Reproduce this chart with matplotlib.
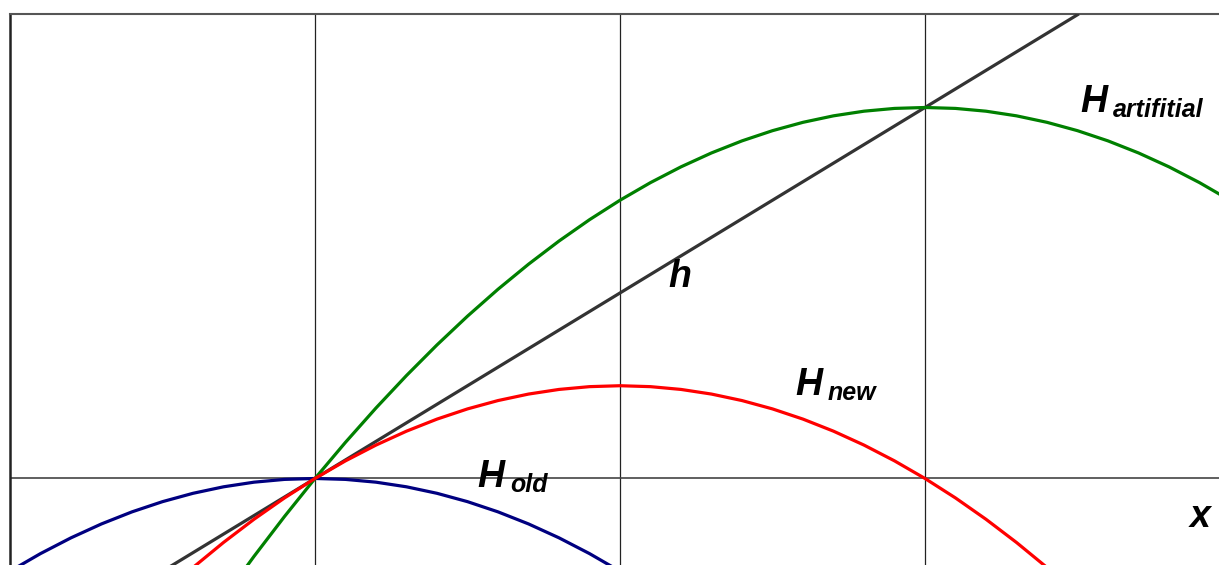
import matplotlib
matplotlib.use("Agg")
import matplotlib.pyplot as plt

# x positions (step 0.1)
x_old = [-1.0, -0.9, -0.8, -0.7, -0.6, -0.5, -0.4, -0.3, -0.2, -0.1, 0.0,
         0.1, 0.2, 0.3, 0.4, 0.5, 0.6, 0.7, 0.8, 0.9, 1.0]
h_old = [-1.0, -0.81, -0.64, -0.49, -0.36, -0.25, -0.16, -0.09, -0.04, -0.01, 0.0,
         -0.01, -0.04, -0.09, -0.16, -0.25, -0.36, -0.49, -0.64, -0.81, -1.0]

x_new = [-0.4, -0.3, -0.2, -0.1, 0.0, 0.1, 0.2, 0.3, 0.4, 0.5, 0.6, 0.7, 0.8, 0.9,
         1.0, 1.1, 1.2, 1.3, 1.4, 1.5, 1.6, 1.7, 1.8, 1.9, 2.0, 2.1, 2.2, 2.3, 2.4]
h_new = [-0.96, -0.69, -0.44, -0.21, 0.0, 0.19, 0.36, 0.51, 0.64, 0.75, 0.84, 0.91, 0.96, 0.99,
         1.0, 0.99, 0.96, 0.91, 0.84, 0.75, 0.64, 0.51, 0.36, 0.19, 0.0, -0.21, -0.44, -0.69, -0.96]

x_h = [-0.5, 0.0, 0.5, 1.0, 1.5, 2.0, 2.5]
h_lin = [-1.0, 0.0, 1.0, 2.0, 3.0, 4.0, 5.0]

x_art = [-0.3, -0.2, -0.1, 0.0, 0.1, 0.2, 0.3, 0.4, 0.5, 0.6, 0.7, 0.8, 0.9, 1.0,
         1.1, 1.2, 1.3, 1.4, 1.5, 1.6, 1.7, 1.8, 1.9, 2.0, 2.1, 2.2, 2.3, 2.4,
         2.5, 2.6, 2.7, 2.8, 2.9, 3.0]
h_art = [-1.29, -0.84, -0.41, 0.0, 0.39, 0.76, 1.11, 1.44, 1.75, 2.04, 2.31, 2.56, 2.79, 3.0,
         3.19, 3.36, 3.51, 3.64, 3.75, 3.84, 3.91, 3.96, 3.99, 4.0, 3.99, 3.96, 3.91, 3.84,
         3.75, 3.64, 3.51, 3.36, 3.19, 3.0]

W, H = 1219, 565
fig = plt.figure(figsize=(W / 100, H / 100), dpi=100)
ax = fig.add_axes([10 / W, 0, (W - 10) / W, (H - 14) / H])
ax.set_xlim(-1.0, 2.964)
ax.set_ylim(-0.933, 5.008)

for xv in (0, 1, 2):
    ax.axvline(xv, color="#222222", lw=0.9, zorder=1)
ax.axhline(0, color="#444444", lw=1.2, zorder=1)

lw = 2.3
ax.plot(x_old, h_old, color="#000080", lw=lw, zorder=3)
ax.plot(x_h, h_lin, color="#333333", lw=lw, zorder=3)
ax.plot(x_new, h_new, color="#FF0000", lw=lw, zorder=4)
ax.plot(x_art, h_art, color="#008000", lw=lw, zorder=3)

for s in ("right", "bottom"):
    ax.spines[s].set_visible(False)
ax.spines["top"].set_color("#555555")
ax.spines["top"].set_linewidth(1.5)
ax.spines["left"].set_color("#222222")
ax.spines["left"].set_linewidth(1.8)
ax.set_xticks([])
ax.set_yticks([])

fam = ["Liberation Sans", "DejaVu Sans"]
big = dict(fontsize=27, fontweight="bold", fontstyle="italic", family=fam,
           ha="left", va="baseline", color="black", zorder=5)
small = dict(fontsize=18, fontweight="bold", fontstyle="italic", family=fam,
             ha="left", va="baseline", color="black", zorder=5)

def px(xp, yp):
    return (xp - 315) / 305, (478.5 - yp) / 92.75

ax.text(*px(477, 487), "H", **big)
ax.text(*px(510, 492), "old", **small)
ax.text(*px(795, 395), "H", **big)
ax.text(*px(828, 400), "new", **small)
ax.text(*px(1080, 112), "H", **big)
ax.text(*px(1113, 117), "artifitial", **small)
ax.text(*px(668, 287), "h", **big)
ax.text(*px(1190, 527), "x", **big)

fig.savefig("out.png", dpi=100)
